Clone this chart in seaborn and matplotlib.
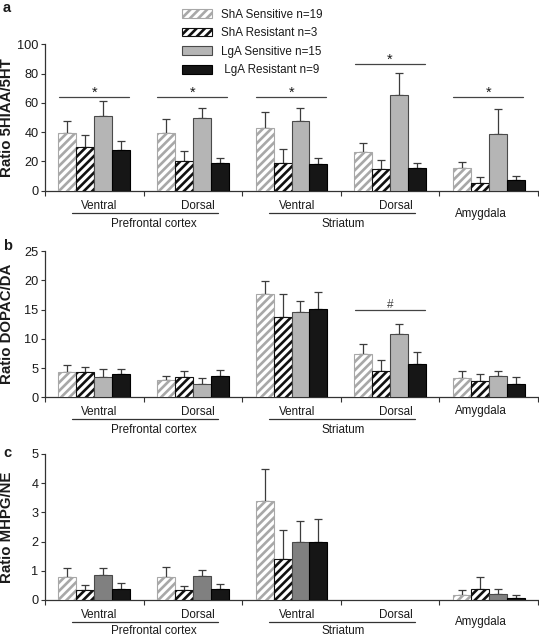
import numpy as np
import pandas as pd
import matplotlib
matplotlib.use("Agg")
import matplotlib.pyplot as plt
import seaborn as sns
from matplotlib.transforms import blended_transform_factory

# ---------------- data ----------------
regions = ["PFC Ventral", "PFC Dorsal", "Striatum Ventral", "Striatum Dorsal", "Amygdala"]
groups = ["ShA Sensitive n=19", "ShA Resistant n=3", "LgA Sensitive n=15", " LgA Resistant n=9"]

# panel a : Ratio 5HIAA/5HT (mean, SEM)
a_sha_s = [39.2, 39.2, 43.0, 26.4, 15.7]
a_sha_s_sem = [8.2, 10.0, 10.8, 6.2, 4.1]
a_sha_r = [30.1, 20.0, 19.1, 14.6, 5.5]
a_sha_r_sem = [8.2, 7.3, 9.1, 6.1, 3.6]
a_lga_s = [51.3, 49.4, 47.8, 65.1, 38.5]
a_lga_s_sem = [10.0, 7.1, 8.7, 15.1, 17.1]
a_lga_r = [27.6, 19.1, 18.5, 15.7, 7.5]
a_lga_r_sem = [6.1, 3.5, 4.1, 3.2, 2.3]

# panel b : Ratio DOPAC/DA
b_sha_s = [4.4, 2.95, 17.7, 7.4, 3.35]
b_sha_s_sem = [1.05, 0.65, 2.2, 1.7, 1.15]
b_sha_r = [4.4, 3.5, 13.75, 4.5, 2.7]
b_sha_r_sem = [0.8, 1.0, 3.95, 1.9, 1.3]
b_lga_s = [3.5, 2.3, 14.5, 10.85, 3.7]
b_lga_s_sem = [1.3, 1.0, 2.0, 1.75, 0.8]
b_lga_r = [4.0, 3.7, 15.1, 5.7, 2.3]
b_lga_r_sem = [0.8, 0.9, 2.9, 2.0, 1.2]

# panel c : Ratio MHPG/NE (no dorsal striatum data)
nan = np.nan
c_sha_s = [0.78, 0.78, 3.39, nan, 0.17]
c_sha_s_sem = [0.33, 0.34, 1.11, nan, 0.16]
c_sha_r = [0.34, 0.34, 1.39, nan, 0.38]
c_sha_r_sem = [0.16, 0.13, 1.0, nan, 0.41]
c_lga_s = [0.87, 0.83, 2.0, nan, 0.22]
c_lga_s_sem = [0.24, 0.21, 0.72, nan, 0.16]
c_lga_r = [0.39, 0.39, 2.0, nan, 0.06]
c_lga_r_sem = [0.18, 0.16, 0.79, nan, 0.12]

# significance markers
a_sig_regions = [0, 1, 2, 3, 4]
a_sig_levels = [64, 64, 64, 86.3, 64]
b_sig_regions = [3]
b_sig_levels = [14.9]

ylabels = ["Ratio 5HIAA/5HT", "Ratio DOPAC/DA", "Ratio MHPG/NE"]
panel_letters = ["a", "b", "c"]
ymaxes = [100, 25, 5]
ysteps = [20, 5, 1]

# ---------------- style ----------------
sns.set_style("ticks")
plt.rcParams["font.family"] = ["Liberation Sans", "DejaVu Sans"]
plt.rcParams["hatch.linewidth"] = 1.9
TXT = "#1a1a1a"
AX = "#333333"


def make_df(vals, sems):
    rows = []
    for g, v, s in zip(groups, vals, sems):
        for r, vv, ss in zip(regions, v, s):
            rows.append(dict(region=r, group=g, value=vv, err=ss))
    return pd.DataFrame(rows).dropna()


dfs = [
    make_df([a_sha_s, a_sha_r, a_lga_s, a_lga_r], [a_sha_s_sem, a_sha_r_sem, a_lga_s_sem, a_lga_r_sem]),
    make_df([b_sha_s, b_sha_r, b_lga_s, b_lga_r], [b_sha_s_sem, b_sha_r_sem, b_lga_s_sem, b_lga_r_sem]),
    make_df([c_sha_s, c_sha_r, c_lga_s, c_lga_r], [c_sha_s_sem, c_sha_r_sem, c_lga_s_sem, c_lga_r_sem]),
]

fig = plt.figure(figsize=(5.39, 6.37), dpi=100)
FW, FH = 539, 637
L, W = 45 / FW, 493 / FW
bottoms_px = [190.7, 397.3, 600.0]
heights_px = [146.4, 146.3, 146.0]
letter_top_px = [1, 239, 446]
amyg_off = [23.5, 13.5, 21.7]
region_off = [33.0, 33.0, 30.5]

axes = []
for pi in range(3):
    ax = fig.add_axes([L, 1 - bottoms_px[pi] / FH, W, heights_px[pi] / FH])
    axes.append(ax)
    df = dfs[pi]
    sns.barplot(data=df, x="region", y="value", hue="group", order=regions,
                hue_order=groups, errorbar=None, width=0.73, gap=0,
                legend=False, ax=ax, zorder=3)
    lga_s_col = "#b5b5b5" if pi < 2 else "#808080"
    styles = [
        dict(facecolor="white", edgecolor="#a8a8a8", hatch="////"),
        dict(facecolor="white", edgecolor="#111111", hatch="////"),
        dict(facecolor=lga_s_col, edgecolor="#4a4a4a", hatch=None),
        dict(facecolor="#161616", edgecolor="#000000", hatch=None),
    ]
    bar_conts = list(ax.containers)
    err_lookup = {(r, g): s for r, g, s in zip(df["region"], df["group"], df["err"])}
    for gi, cont in enumerate(bar_conts):
        for p in cont:
            p.set(linewidth=0.8, **styles[gi])
            xc = p.get_x() + p.get_width() / 2
            k = int(round(xc))
            s = err_lookup.get((regions[k], groups[gi]))
            if s is None:
                continue
            ax.errorbar(xc, p.get_height(), yerr=[[0], [s]], fmt="none",
                        ecolor="#3c3c3c", elinewidth=0.9, capsize=3.0,
                        capthick=0.9, zorder=2)

    ymax = ymaxes[pi]
    ax.set_xlim(-0.5, 4.5)
    ax.set_ylim(0, ymax)
    ax.set_xticks(np.arange(-0.5, 5.0, 1.0))
    ax.set_xticklabels([])
    ax.set_yticks(np.arange(0, ymax + 0.001, ysteps[pi]))
    ax.set_yticklabels([f"{int(v)}" for v in np.arange(0, ymax + 0.001, ysteps[pi])])
    ax.set_xlabel("")
    sns.despine(ax=ax)
    for sp in ("left", "bottom"):
        ax.spines[sp].set_color(AX)
        ax.spines[sp].set_linewidth(0.9)
    ax.spines["left"].set_bounds(0, ymax)
    ax.tick_params(axis="x", length=3.8, width=0.8, color=AX, direction="out")
    ax.tick_params(axis="y", length=3.2, width=0.8, color=AX, pad=1.5,
                   labelsize=9.2, labelcolor=TXT)
    ax.set_ylabel(ylabels[pi], fontsize=10.8, fontweight="bold", color=TXT)
    ax.yaxis.set_label_coords(-0.062, 0.5)
    ax.patch.set_alpha(0)

    # labels under the axis
    H = heights_px[pi]
    tr = blended_transform_factory(ax.transData, ax.transAxes)
    for xc, lab in [(0.05, "Ventral"), (1.05, "Dorsal"), (2.06, "Ventral"), (3.06, "Dorsal")]:
        ax.text(xc, -15.0 / H, lab, transform=tr, ha="center", va="center",
                fontsize=8.4, color=TXT)
    ax.text(3.92, -amyg_off[pi] / H, "Amygdala", transform=tr, ha="center",
            va="center", fontsize=8.4, color=TXT)
    for x0, x1 in [(-0.23, 1.25), (1.77, 3.25)]:
        ax.plot([x0, x1], [-22.0 / H] * 2, transform=tr, color=AX, lw=0.9,
                clip_on=False)
    ax.text(0.6, -region_off[pi] / H, "Prefrontal cortex", transform=tr,
            ha="center", va="center", fontsize=8.4, color=TXT)
    ax.text(2.52, -region_off[pi] / H, "Striatum", transform=tr, ha="center",
            va="center", fontsize=8.4, color=TXT)

    fig.text(3 / FW, 1 - letter_top_px[pi] / FH, panel_letters[pi],
             fontsize=10.5, fontweight="bold", va="top", ha="left", color=TXT)

# significance lines
ax = axes[0]
for k, yv in zip(a_sig_regions, a_sig_levels):
    ax.plot([k - 0.36, k + 0.35], [yv, yv], color="#444444", lw=0.9, clip_on=False)
    ax.text(k, yv + 0.3, "*", ha="center", va="baseline", fontsize=10.5, color=TXT)
ax = axes[1]
for k, yv in zip(b_sig_regions, b_sig_levels):
    ax.plot([k - 0.36, k + 0.35], [yv, yv], color="#444444", lw=0.9, clip_on=False)
    ax.text(k, yv + 0.4, "#", ha="center", va="baseline", fontsize=8.5, color="#444444")

# legend
handles = [cont[0] for cont in axes[0].containers[:4]]
fig.legend(handles, groups, loc="upper left",
           bbox_to_anchor=(182 / FW, 1 - 8.5 / FH), frameon=False, fontsize=8.4,
           handlelength=2.6, handleheight=0.8, handletextpad=0.75,
           labelspacing=0.56, borderpad=0, borderaxespad=0, labelcolor=TXT)

fig.savefig("out.png", dpi=100)
